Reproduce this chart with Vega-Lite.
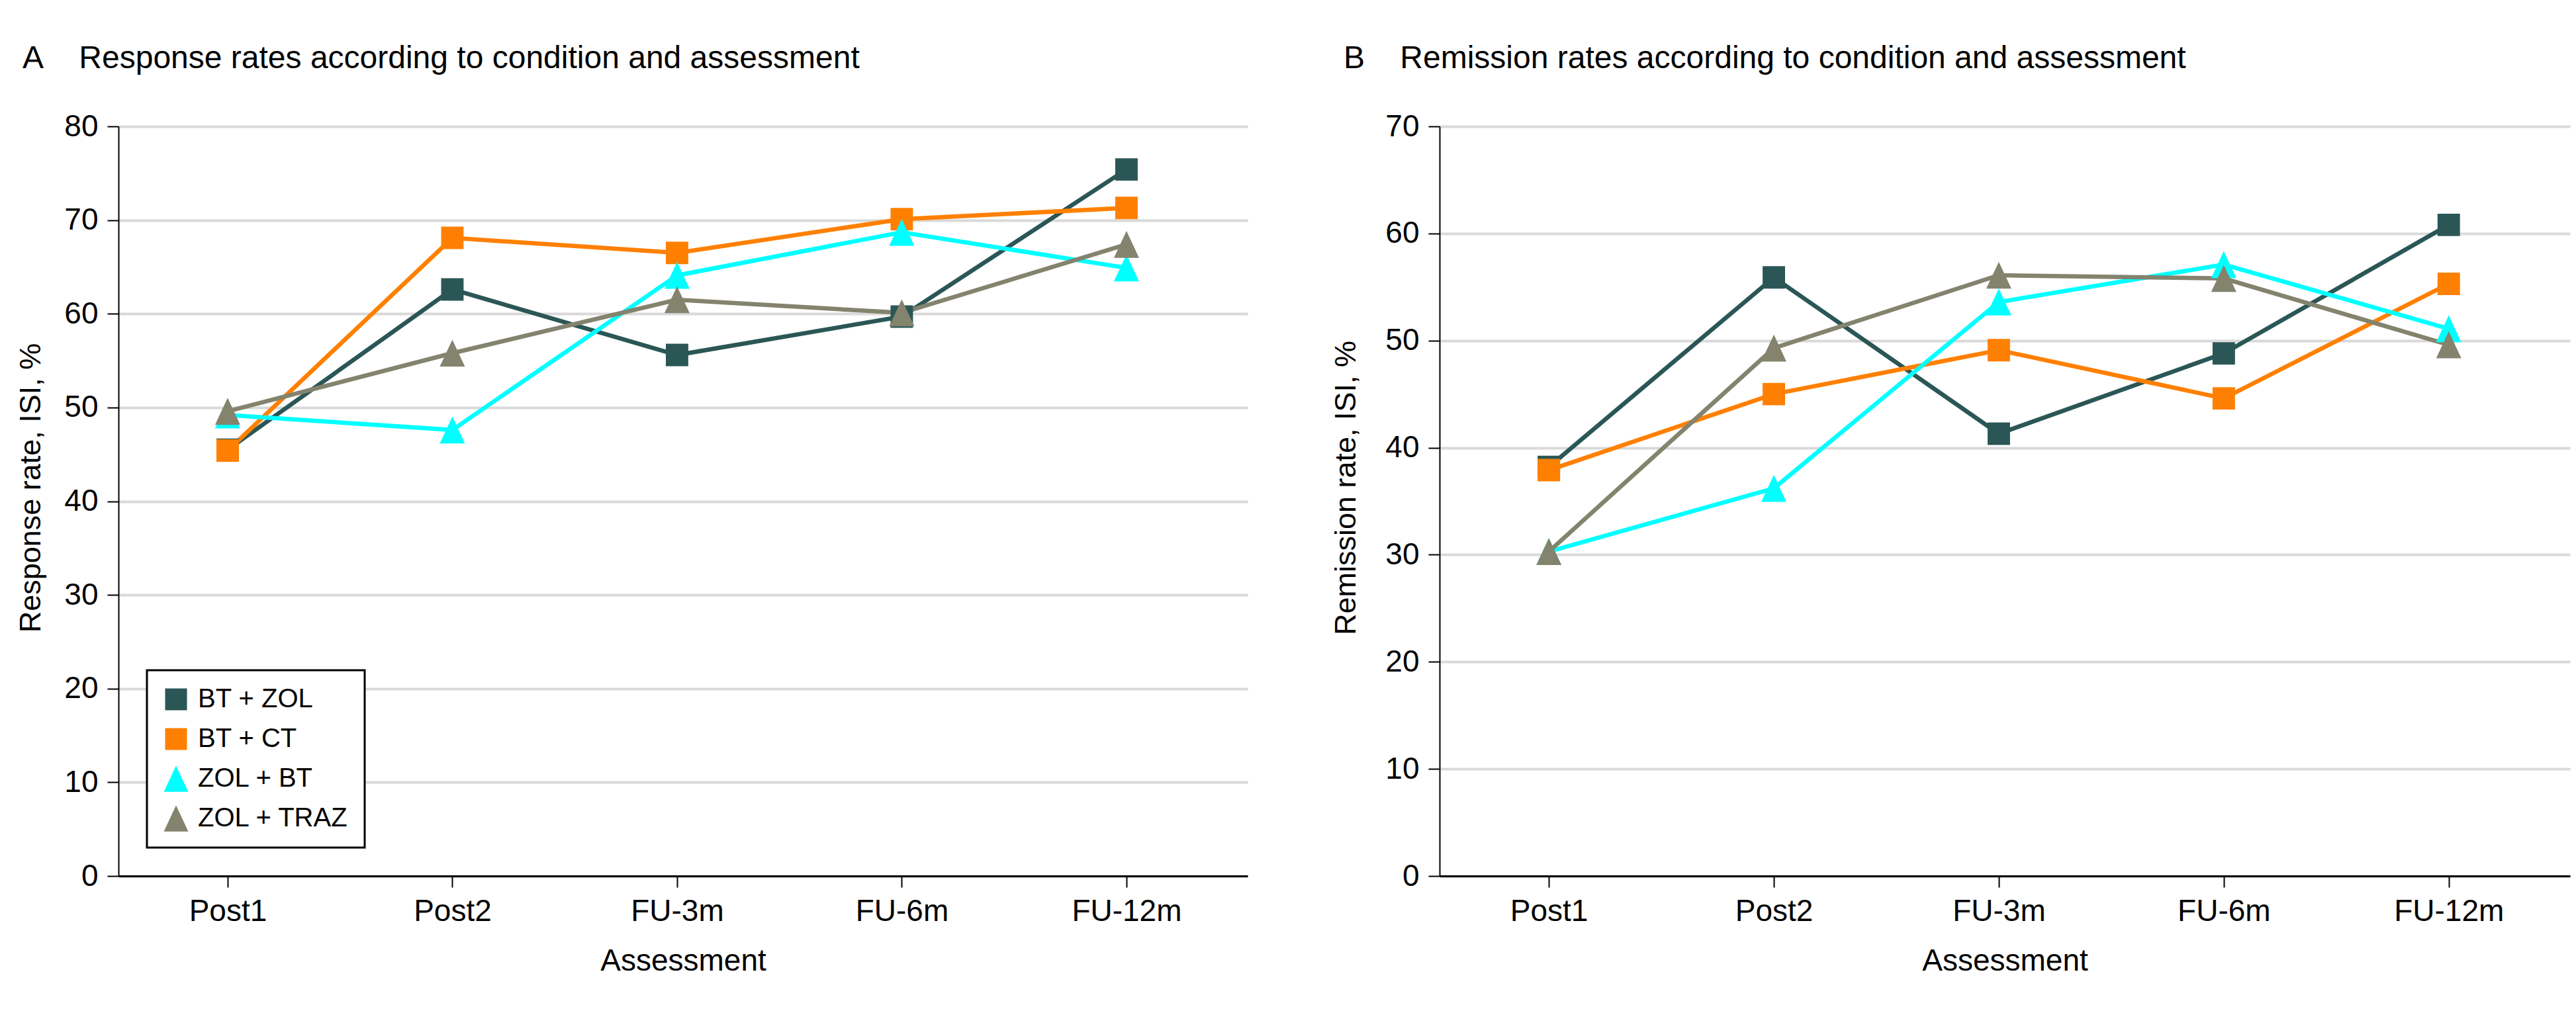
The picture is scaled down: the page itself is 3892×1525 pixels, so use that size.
{
  "$schema": "https://vega.github.io/schema/vega-lite/v6.json",
  "padding": {"left": 24, "top": 65, "right": 14, "bottom": 30},
  "bounds": "flush",
  "spacing": 290,
  "background": "white",
  "config": {
    "font": "Liberation Sans, Arial, sans-serif",
    "view": {"stroke": null},
    "axis": {"labelColor": "black", "titleColor": "black", "labelFontSize": 46, "titleFontSize": 46, "titleFontWeight": "normal"},
    "axisY": {"domainColor": "black", "domainWidth": 2, "tickColor": "black", "tickWidth": 2, "tickSize": 17, "labelPadding": 14, "gridColor": "#d9d9d9", "gridWidth": 4, "titleFontSize": 45},
    "axisX": {"domainColor": "black", "domainWidth": 3, "tickColor": "black", "tickWidth": 2, "tickSize": 17, "labelPadding": 14, "grid": false, "titlePadding": 30, "labelAngle": 0},
    "title": {"fontSize": 48, "fontWeight": "normal", "color": "black", "anchor": "start", "frame": "group", "offset": 55},
    "legend": {"labelFontSize": 40, "labelLimit": 600, "labelColor": "black", "strokeColor": "black", "strokeWidth": 3, "fillColor": "white", "padding": 24, "rowPadding": 20, "labelOffset": 13, "symbolSize": 1089, "symbolStrokeWidth": 0}
  },
  "datasets": {
    "response": [
      {"assessment": "Post1", "condition": "BT + ZOL", "rate": 45.5},
      {"assessment": "Post2", "condition": "BT + ZOL", "rate": 62.6},
      {"assessment": "FU-3m", "condition": "BT + ZOL", "rate": 55.6},
      {"assessment": "FU-6m", "condition": "BT + ZOL", "rate": 59.7},
      {"assessment": "FU-12m", "condition": "BT + ZOL", "rate": 75.4},
      {"assessment": "Post1", "condition": "BT + CT", "rate": 45.4},
      {"assessment": "Post2", "condition": "BT + CT", "rate": 68.1},
      {"assessment": "FU-3m", "condition": "BT + CT", "rate": 66.5},
      {"assessment": "FU-6m", "condition": "BT + CT", "rate": 70.1},
      {"assessment": "FU-12m", "condition": "BT + CT", "rate": 71.3},
      {"assessment": "Post1", "condition": "ZOL + BT", "rate": 49.2},
      {"assessment": "Post2", "condition": "ZOL + BT", "rate": 47.6},
      {"assessment": "FU-3m", "condition": "ZOL + BT", "rate": 64.1},
      {"assessment": "FU-6m", "condition": "ZOL + BT", "rate": 68.7},
      {"assessment": "FU-12m", "condition": "ZOL + BT", "rate": 64.9},
      {"assessment": "Post1", "condition": "ZOL + TRAZ", "rate": 49.6},
      {"assessment": "Post2", "condition": "ZOL + TRAZ", "rate": 55.8},
      {"assessment": "FU-3m", "condition": "ZOL + TRAZ", "rate": 61.5},
      {"assessment": "FU-6m", "condition": "ZOL + TRAZ", "rate": 60.1},
      {"assessment": "FU-12m", "condition": "ZOL + TRAZ", "rate": 67.4}
    ],
    "remission": [
      {"assessment": "Post1", "condition": "BT + ZOL", "rate": 38.2},
      {"assessment": "Post2", "condition": "BT + ZOL", "rate": 55.9},
      {"assessment": "FU-3m", "condition": "BT + ZOL", "rate": 41.3},
      {"assessment": "FU-6m", "condition": "BT + ZOL", "rate": 48.8},
      {"assessment": "FU-12m", "condition": "BT + ZOL", "rate": 60.8},
      {"assessment": "Post1", "condition": "BT + CT", "rate": 37.9},
      {"assessment": "Post2", "condition": "BT + CT", "rate": 45.0},
      {"assessment": "FU-3m", "condition": "BT + CT", "rate": 49.1},
      {"assessment": "FU-6m", "condition": "BT + CT", "rate": 44.6},
      {"assessment": "FU-12m", "condition": "BT + CT", "rate": 55.3},
      {"assessment": "Post1", "condition": "ZOL + BT", "rate": 30.3},
      {"assessment": "Post2", "condition": "ZOL + BT", "rate": 36.2},
      {"assessment": "FU-3m", "condition": "ZOL + BT", "rate": 53.6},
      {"assessment": "FU-6m", "condition": "ZOL + BT", "rate": 57.1},
      {"assessment": "FU-12m", "condition": "ZOL + BT", "rate": 51.1},
      {"assessment": "Post1", "condition": "ZOL + TRAZ", "rate": 30.3},
      {"assessment": "Post2", "condition": "ZOL + TRAZ", "rate": 49.3},
      {"assessment": "FU-3m", "condition": "ZOL + TRAZ", "rate": 56.1},
      {"assessment": "FU-6m", "condition": "ZOL + TRAZ", "rate": 55.8},
      {"assessment": "FU-12m", "condition": "ZOL + TRAZ", "rate": 49.6}
    ]
  },
  "hconcat": [
    {
      "width": 1706,
      "height": 1133,
      "title": {"text": "A\u00a0\u00a0\u00a0 Response rates according to condition and assessment", "dx": -145},
      "data": {"name": "response"},
      "encoding": {
        "x": {"field": "assessment", "type": "nominal", "sort": ["Post1", "Post2", "FU-3m", "FU-6m", "FU-12m"], "scale": {"type": "point", "padding": 0.5125, "align": 0.474}, "title": "Assessment"},
        "y": {"field": "rate", "type": "quantitative", "scale": {"domain": [0, 80]}, "axis": {"values": [0, 10, 20, 30, 40, 50, 60, 70, 80], "titleX": -110, "titleY": 546}, "title": "Response rate, ISI, %"},
        "color": {"field": "condition", "type": "nominal", "scale": {"domain": ["BT + ZOL", "BT + CT", "ZOL + BT", "ZOL + TRAZ"], "range": ["#2b5656", "#ff8000", "#00ffff", "#83836e"]}, "legend": {"title": null, "orient": "bottom-left", "offset": 43}}
      },
      "layer": [
        {"mark": {"type": "line", "strokeWidth": 6.5}},
        {"mark": {"type": "point", "filled": true, "size": 1150, "opacity": 1},
         "encoding": {"shape": {"field": "condition", "type": "nominal", "scale": {"domain": ["BT + ZOL", "BT + CT", "ZOL + BT", "ZOL + TRAZ"], "range": ["square", "square", "M0,-1.2L1.12,1.2L-1.12,1.2Z", "M0,-1.2L1.12,1.2L-1.12,1.2Z"]}, "legend": {"title": null, "orient": "bottom-left", "offset": 43}}}}
      ]
    },
    {
      "width": 1708,
      "height": 1133,
      "title": {"text": "B\u00a0\u00a0\u00a0 Remission rates according to condition and assessment", "dx": -145},
      "data": {"name": "remission"},
      "encoding": {
        "x": {"field": "assessment", "type": "nominal", "sort": ["Post1", "Post2", "FU-3m", "FU-6m", "FU-12m"], "scale": {"type": "point", "padding": 0.5125, "align": 0.474}, "title": "Assessment"},
        "y": {"field": "rate", "type": "quantitative", "scale": {"domain": [0, 70]}, "axis": {"values": [0, 10, 20, 30, 40, 50, 60, 70], "titleX": -119, "titleY": 546}, "title": "Remission rate, ISI, %"},
        "color": {"field": "condition", "type": "nominal", "legend": null}
      },
      "layer": [
        {"mark": {"type": "line", "strokeWidth": 6.5}},
        {"mark": {"type": "point", "filled": true, "size": 1150, "opacity": 1},
         "encoding": {"shape": {"field": "condition", "type": "nominal", "legend": null}}}
      ]
    }
  ],
  "resolve": {"legend": {"color": "independent", "shape": "independent"}}
}
